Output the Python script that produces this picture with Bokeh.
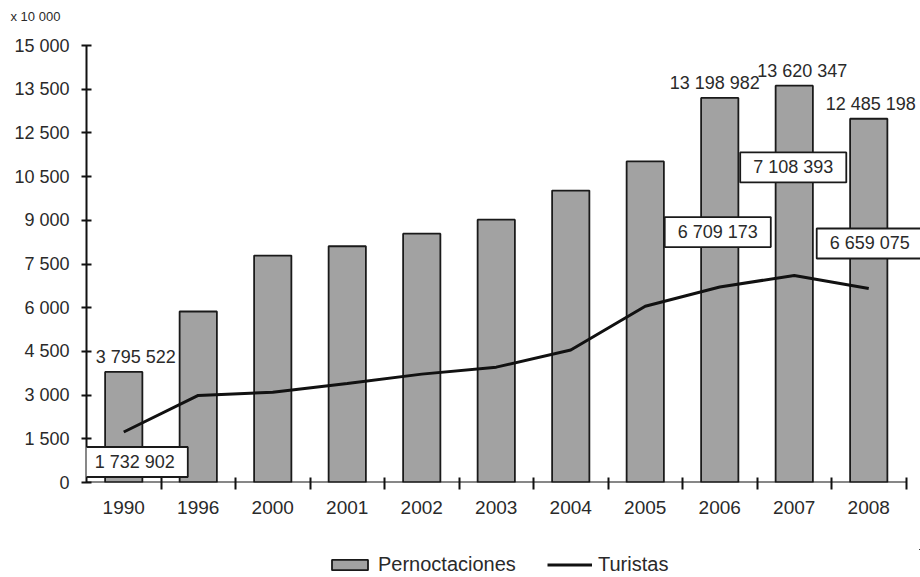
from bokeh.plotting import figure
from bokeh.layouts import column
from bokeh.models import (ColumnDataSource, FixedTicker, LabelSet, Legend,
                          LegendItem, Label, Range1d, Title)
from bokeh.core.properties import value
from bokeh.embed import file_html
from bokeh.resources import INLINE

years = ["1990", "1996", "2000", "2001", "2002", "2003", "2004",
         "2005", "2006", "2007", "2008"]
pernoctaciones = [3795.5, 5870, 7790, 8110, 8540, 9020, 10020,
                  11020, 13199.0, 13620.3, 12485.2]
turistas = [1732.9, 2990, 3100, 3400, 3720, 3960, 4550,
            6050, 6709.2, 7108.4, 6659.1]

y_tick_values = [0, 1500, 3000, 4500, 6000, 7500, 9000,
                 10500, 12000, 13500, 15000]
y_tick_labels = ["0", "1 500", "3 000", "4 500", "6 000", "7 500", "9 000",
                 "10 500", "12 500", "13 500", "15 000"]

bar_label_years = ["1990", "2006", "2007", "2008"]
bar_label_texts = ["3 795 522", "13 198 982", "13 620 347", "12 485 198"]
line_label_years = ["1990", "2006", "2007", "2008"]
line_label_texts = ["1 732 902", "6 709 173", "7 108 393", "6 659 075"]

TEXT = "#2a2a2a"
FONT = "Liberation Sans"
BAR_FILL = "#a2a2a2"
DARK = "#1a1a1a"

n = len(years)
xs = list(range(n))
src = ColumnDataSource(dict(x=xs, p=pernoctaciones, t=turistas))

W, H, LEG_H = 920, 577, 28
FRAME_L, FRAME_T, FRAME_B = 86, 45, 482
step = 74.5  # px per category
x_end = -0.5 + (W - FRAME_L) / step

p = figure(width=W, height=H - LEG_H, output_backend="svg", toolbar_location=None,
           x_range=Range1d(-0.5, x_end), y_range=Range1d(0, 15000),
           min_border_left=FRAME_L, min_border_right=0, min_border_top=FRAME_T,
           min_border_bottom=H - LEG_H - FRAME_B)
p.outline_line_color = None
p.grid.grid_line_color = None
p.background_fill_color = "white"

bars = p.vbar(x="x", top="p", width=0.5, source=src, fill_color=BAR_FILL,
              line_color=DARK, line_width=1.8)
line = p.line(x="x", y="t", source=src, line_color="#111111", line_width=3)
# x baseline (axis line) spanning only the categories
p.line(x=[-0.5, n - 0.5], y=[0, 0], line_color="#111111", line_width=2)

# axes
xa = p.xaxis[0]
xa.ticker = FixedTicker(ticks=xs, minor_ticks=[i + 0.5 for i in xs])
xa.major_label_overrides = {i: y for i, y in enumerate(years)}
xa.major_tick_in = 0
xa.major_tick_out = 0
xa.minor_tick_in = 5
xa.minor_tick_out = 7
xa.minor_tick_line_color = "#111111"
xa.minor_tick_line_width = 2
xa.axis_line_color = None
xa.major_label_standoff = 11
xa.major_label_text_font = FONT
xa.major_label_text_font_size = "19px"
xa.major_label_text_color = TEXT

ya = p.yaxis[0]
ya.ticker = FixedTicker(ticks=y_tick_values, minor_ticks=[])
ya.major_label_overrides = {v: l for v, l in zip(y_tick_values, y_tick_labels)}
ya.major_tick_in = 5
ya.major_tick_out = 5
ya.major_tick_line_width = 2
ya.major_tick_line_color = "#111111"
ya.axis_line_width = 2
ya.axis_line_color = "#111111"
ya.major_label_standoff = 12
ya.major_label_text_font = FONT
ya.major_label_text_font_size = "18px"
ya.major_label_text_color = TEXT

# bar value labels
bidx = [years.index(y) for y in bar_label_years]
bsrc = ColumnDataSource(dict(x=bidx, y=[pernoctaciones[i] for i in bidx],
                             text=bar_label_texts, dx=[12, -5, 8, 2]))
p.add_layout(LabelSet(x="x", y="y", text="text", source=bsrc, x_offset="dx",
                      y_offset=5, text_align="center", text_baseline="bottom",
                      text_font=value(FONT), text_font_size=value("18px"),
                      text_color=TEXT))

# line value labels in boxes
box_dx = [11, -2, -1, 1]
box_dy = [-30, 55, 108, 45]
for yr, txt, dx, dy in zip(line_label_years, line_label_texts, box_dx, box_dy):
    i = years.index(yr)
    p.add_layout(Label(x=i, y=turistas[i], text=txt, x_offset=dx, y_offset=dy,
                       text_align="center", text_baseline="middle",
                       text_font=FONT, text_font_size="18px", text_color=TEXT,
                       background_fill_color="white",
                       border_line_color=DARK, border_line_width=1.8,
                       padding=(13, 5)))

# unit note (blank second line lifts it to the top edge)
p.add_layout(Title(text="x 10 000\n ", align="left", offset=-76, standoff=13,
                   text_font=FONT, text_font_size="13px", text_color=TEXT,
                   text_font_style="normal"), "above")

# legend strip (legend proxies share the data, drawn out of view)
q = figure(width=W, height=LEG_H, output_backend="svg", toolbar_location=None,
           x_axis_type=None, y_axis_type=None, min_border=0,
           x_range=Range1d(-100, -99), y_range=Range1d(-100000, -99999))
q.outline_line_color = None
q.grid.grid_line_color = None
lb = q.vbar(x="x", top="p", source=src, width=0.5, fill_color=BAR_FILL,
            line_color=DARK, line_width=1.8)
ll = q.line(x="x", y="t", source=src, line_color="#111111", line_width=3)
legend = Legend(items=[LegendItem(label="Pernoctaciones", renderers=[lb]),
                       LegendItem(label="Turistas", renderers=[ll])],
                orientation="horizontal", location=(241, 1),
                glyph_width=45, glyph_height=13, label_standoff=6, spacing=20,
                label_width=149, padding=0, margin=0, border_line_color=None,
                background_fill_alpha=0, label_text_font=FONT,
                label_text_font_size="20px", label_text_color=TEXT)
q.add_layout(legend, "center")

open("out.html", "w").write(file_html(column(p, q, spacing=0), INLINE))
